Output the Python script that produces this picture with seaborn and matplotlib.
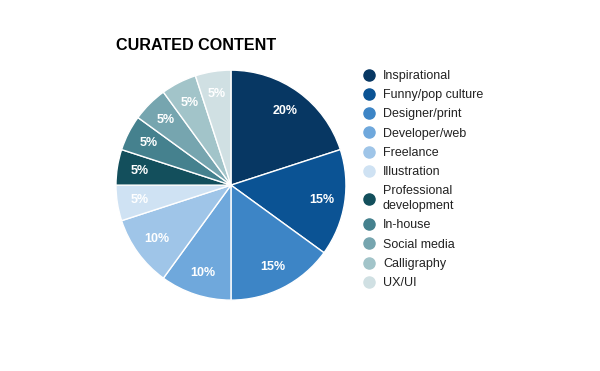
import matplotlib
matplotlib.use("Agg")
import matplotlib.pyplot as plt
from matplotlib.lines import Line2D
import seaborn as sns

categories = ["Inspirational", "Funny/pop culture", "Designer/print", "Developer/web",
              "Freelance", "Illustration", "Professional\ndevelopment", "In-house",
              "Social media", "Calligraphy", "UX/UI"]
values = [20, 15, 15, 10, 10, 5, 5, 5, 5, 5, 5]
colors = ["#073763", "#0b5394", "#3d85c6", "#6fa8dc", "#9fc5e8", "#cfe2f3",
          "#134f5c", "#45818e", "#76a5af", "#a2c4c9", "#d0e0e3"]
title = "CURATED CONTENT"

sns.set_style("white")
plt.rcParams['font.family'] = ['Arial', 'Liberation Sans', 'DejaVu Sans']

fig = plt.figure(figsize=(6, 3.71), dpi=100)
ax = fig.add_axes([0.1933, 0.191, 0.3833, 0.62])
wedges, texts, autotexts = ax.pie(
    values, colors=sns.color_palette(colors), startangle=90, counterclock=False,
    autopct=lambda p: f"{p:.0f}%", pctdistance=0.8, radius=1,
    wedgeprops=dict(edgecolor="white", linewidth=1),
    textprops=dict(color="white", fontsize=9, fontweight="bold"))
ax.set_xlim(-1, 1)
ax.set_ylim(-1, 1)
ax.set_aspect("equal")
ax.axis("off")

fig.text(116 / 600, 1 - 45 / 371, title, ha="left", va="center",
         fontsize=11.6, fontweight="bold", color="#000000")

handles = [Line2D([0], [0], marker="o", linestyle="", markersize=8,
                  markerfacecolor=c, markeredgecolor=c) for c in colors]
leg = fig.legend(handles, categories, loc="upper left",
                 bbox_to_anchor=(361 / 600, 1 - 70 / 371), frameon=False,
                 fontsize=9, labelspacing=0.58, handletextpad=0.55,
                 handlelength=1.2, borderaxespad=0, borderpad=0)
for t in leg.get_texts():
    t.set_color("#222222")
    t.set_linespacing(1.3)

fig.savefig("out.png", dpi=100)
